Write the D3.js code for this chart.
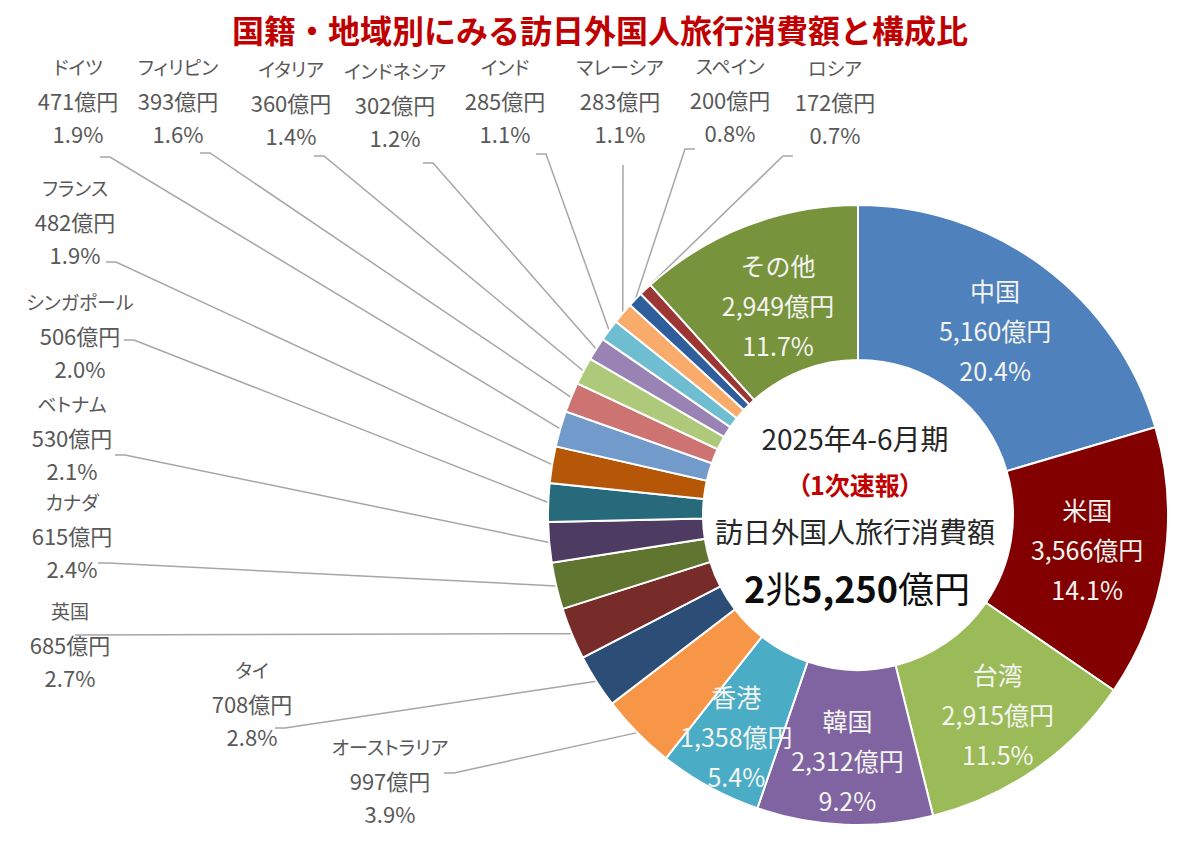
<!DOCTYPE html>
<html>
<head>
<meta charset="utf-8">
<script src="https://cdn.jsdelivr.net/npm/d3@7"></script>
<style>
  body { margin: 0; background: #fff; }
  text { font-family: "Noto Sans CJK JP", "Noto Sans", sans-serif; }
  .nm { font-feature-settings: "palt"; }
</style>
</head>
<body>
<svg id="chart" width="1200" height="850"></svg>
<script>
// Data (clockwise from 12 o'clock)
const names = ["中国", "米国", "台湾", "韓国", "香港", "オーストラリア", "タイ", "英国", "カナダ",
  "ベトナム", "シンガポール", "フランス", "ドイツ", "フィリピン", "イタリア", "インドネシア",
  "インド", "マレーシア", "スペイン", "ロシア", "その他"];
const values = [5160, 3566, 2915, 2312, 1358, 997, 708, 685, 615, 530, 506, 482, 471, 393,
  360, 302, 285, 283, 200, 172, 2949];
const shares = ["20.4%", "14.1%", "11.5%", "9.2%", "5.4%", "3.9%", "2.8%", "2.7%", "2.4%",
  "2.1%", "2.0%", "1.9%", "1.9%", "1.6%", "1.4%", "1.2%", "1.1%", "1.1%", "0.8%", "0.7%", "11.7%"];
const colors = ["#4F81BD", "#820000", "#9BBB59", "#8064A2", "#4BACC6", "#F79646", "#2C4D75",
  "#772C2A", "#5F7530", "#4D3B62", "#276A7C", "#B65708", "#729ACA", "#CD7371", "#AFC97A",
  "#9983B5", "#6FBDD1", "#F9AB6B", "#2E5E9C", "#9B3634", "#77933C"];
const titleText = "国籍・地域別にみる訪日外国人旅行消費額と構成比";
const period = "2025年4-6月期";
const note = "（1次速報）";
const totalLabel = "訪日外国人旅行消費額";

// Layout
const cx = 858, cy = 515, rOuter = 310, rInner = 155;
const insideR = { "中国": 229, "米国": 232, "台湾": 245, "韓国": 247, "香港": 254, "その他": 223 };
// outside label: text center x, first line y, leader anchor ax/ay, hook length
const outside = {
  "ドイツ":       { x: 78,  y: 68,  ax: 100, ay: 157, hook: 10 },
  "フィリピン":   { x: 178, y: 68,  ax: 200, ay: 153, hook: 10 },
  "イタリア":     { x: 291, y: 70,  ax: 314, ay: 156, hook: 10 },
  "インドネシア": { x: 395, y: 72,  ax: 423, ay: 163, hook: 10 },
  "インド":       { x: 505, y: 68,  ax: 536, ay: 154, hook: 10 },
  "マレーシア":   { x: 620, y: 68,  ax: 623, ay: 165, hook: 0 },
  "スペイン":     { x: 730, y: 67,  ax: 695, ay: 149, hook: -10 },
  "ロシア":       { x: 835, y: 69,  ax: 793, ay: 156, hook: -10 },
  "フランス":     { x: 75,  y: 189, ax: 106, ay: 262, hook: 10 },
  "シンガポール": { x: 80,  y: 303, ax: 124, ay: 340, hook: 10 },
  "ベトナム":     { x: 72,  y: 405, ax: 115, ay: 455, hook: 10 },
  "カナダ":       { x: 72,  y: 503, ax: 98,  ay: 563, hook: 10 },
  "英国":         { x: 70,  y: 612, ax: 75,  ay: 635, hook: 0 },
  "タイ":         { x: 252, y: 671, ax: 275, ay: 728, hook: 10 },
  "オーストラリア": { x: 390, y: 748, ax: 444, ay: 773, hook: 10 }
};

const svg = d3.select("#chart");

svg.append("text")
  .attr("x", 600).attr("y", 43)
  .attr("text-anchor", "middle")
  .attr("font-size", 32).attr("font-weight", "bold")
  .attr("fill", "#C00000")
  .text(titleText);

const data = names.map((n, i) => ({ name: n, value: values[i], share: shares[i], color: colors[i] }));

const pie = d3.pie().value((d) => d.value).sort(null);
const arcs = pie(data);
const arc = d3.arc().innerRadius(rInner).outerRadius(rOuter);

const g = svg.append("g").attr("transform", "translate(" + cx + "," + cy + ")");

// leader lines first so slices cover the ends
const fmt = d3.format(",");
arcs.forEach((a) => {
  const o = outside[a.data.name];
  if (!o) return;
  const mid = (a.startAngle + a.endAngle) / 2;
  const ex = Math.sin(mid) * rOuter, ey = -Math.cos(mid) * rOuter;
  const pts = [[o.ax - cx, o.ay - cy]];
  if (o.hook) pts.push([o.ax + o.hook - cx, o.ay - cy]);
  pts.push([ex, ey]);
  g.append("path")
    .attr("d", d3.line()(pts))
    .attr("fill", "none")
    .attr("stroke", "#A6A6A6")
    .attr("stroke-width", 1.5);
});

g.selectAll(".slice")
  .data(arcs)
  .enter()
  .append("path")
  .attr("class", "slice")
  .attr("d", arc)
  .attr("fill", (d) => d.data.color)
  .attr("stroke", "#fff")
  .attr("stroke-width", 2);

// labels inside big slices
arcs.forEach((a) => {
  const r = insideR[a.data.name];
  if (!r) return;
  const mid = (a.startAngle + a.endAngle) / 2;
  const x = Math.sin(mid) * r, y = -Math.cos(mid) * r;
  const t = g.append("text")
    .attr("text-anchor", "middle")
    .attr("font-size", 25)
    .attr("fill", "#F4F4F0");
  [a.data.name, fmt(a.data.value) + "億円", a.data.share].forEach((s, k) => {
    t.append("tspan").attr("x", x).attr("y", y + (k - 1) * 40 + 9).text(s);
  });
});

// labels outside small slices
arcs.forEach((a) => {
  const o = outside[a.data.name];
  if (!o) return;
  const t = svg.append("text")
    .attr("text-anchor", "middle")
    .attr("fill", "#595959");
  t.append("tspan").attr("class", "nm").attr("x", o.x).attr("y", o.y + 7)
    .attr("font-size", 19).text(a.data.name);
  t.append("tspan").attr("x", o.x).attr("y", o.y + 34 + 8)
    .attr("font-size", 22).text(fmt(a.data.value) + "億円");
  t.append("tspan").attr("x", o.x).attr("y", o.y + 67 + 8)
    .attr("font-size", 22).text(a.data.share);
});

// centre text
const total = d3.sum(values);
const totalMan = Math.floor(Math.round(total / 10) * 10 / 10000);
const totalRest = Math.round(total / 10) * 10 - totalMan * 10000;

svg.append("text")
  .attr("x", 855).attr("y", 450)
  .attr("text-anchor", "middle").attr("font-size", 28).attr("fill", "#262626")
  .text(period);
svg.append("text")
  .attr("class", "nm")
  .attr("x", 855).attr("y", 495)
  .attr("text-anchor", "middle").attr("font-size", 25).attr("font-weight", "bold")
  .attr("fill", "#C00000")
  .text(note);
svg.append("text")
  .attr("x", 855).attr("y", 543)
  .attr("text-anchor", "middle").attr("font-size", 28).attr("fill", "#262626")
  .text(totalLabel);
const tt = svg.append("text")
  .attr("x", 857).attr("y", 603)
  .attr("text-anchor", "middle").attr("font-size", 36).attr("fill", "#0D0D0D");
tt.append("tspan").attr("font-weight", "bold").text(totalMan);
tt.append("tspan").text("兆");
tt.append("tspan").attr("font-weight", "bold").text(fmt(totalRest));
tt.append("tspan").text("億円");
</script>
</body>
</html>
